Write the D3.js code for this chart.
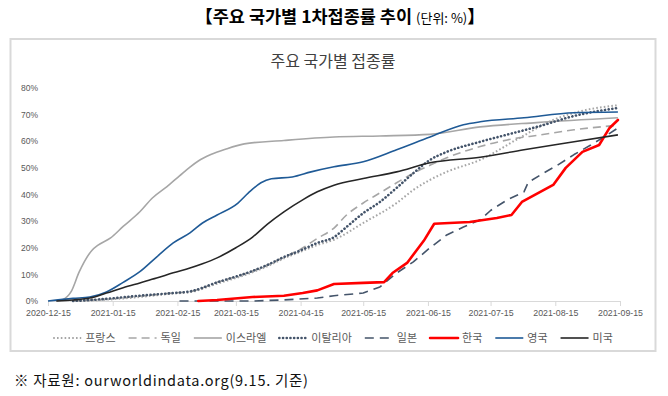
<!DOCTYPE html>
<html><head><meta charset="utf-8">
<script src="https://cdn.jsdelivr.net/npm/d3@7"></script>
<style>body{margin:0;background:#fff}svg{display:block}</style>
</head><body><svg id="c" width="668" height="396"></svg>
<script>
// ---- data ----
const xTickLabels = ["2020-12-15","2021-01-15","2021-02-15","2021-03-15","2021-04-15","2021-05-15","2021-06-15","2021-07-15","2021-08-15","2021-09-15"];
const yTicks = [0,10,20,30,40,50,60,70,80];
const countries = ["프랑스","독일","이스라엘","이탈리아","일본","한국","영국","미국"];

const franceDates = ["2020-12-27","2021-01-12","2021-01-28","2021-02-13","2021-02-21","2021-03-06","2021-03-22","2021-03-30","2021-04-07","2021-04-15","2021-04-23","2021-05-01","2021-05-15","2021-05-31","2021-06-08","2021-06-16","2021-06-24","2021-07-10","2021-07-29","2021-08-14","2021-08-30","2021-09-14"];
const franceValues = [0,0.5,1.5,2.8,3.3,6.5,10.5,13,16,18.5,21,23,29.3,36.8,41.7,45.5,48.5,53,61.3,68,71.8,73.5];

const germanyDates = ["2020-12-27","2021-01-12","2021-01-28","2021-02-13","2021-02-21","2021-03-06","2021-03-22","2021-03-30","2021-04-07","2021-04-15","2021-04-23","2021-05-01","2021-05-07","2021-05-15","2021-05-23","2021-05-31","2021-06-08","2021-06-16","2021-06-24","2021-07-10","2021-07-23","2021-08-08","2021-08-24","2021-09-14"];
const germanyValues = [0,0.7,1.8,3,3.5,7,11,13.5,16.5,19.5,23.5,27.4,32.3,36.8,40.6,44.4,48,51,53.8,58,60.5,62.4,64.3,66];

const israelDates = ["2020-12-19","2020-12-22","2020-12-26","2020-12-30","2021-01-05","2021-01-08","2021-01-14","2021-01-20","2021-01-28","2021-02-03","2021-02-10","2021-02-16","2021-02-21","2021-02-25","2021-03-03","2021-03-10","2021-03-19","2021-04-07","2021-05-01","2021-05-23","2021-06-16","2021-07-10","2021-08-06","2021-09-14"];
const israelValues = [0,0.5,3.4,11,19,21,23.7,28,33.5,38.7,43,47,50.3,52.6,55,57,59,60.3,61.6,62,62.6,65.4,67,68.8];

const italyDates = ["2020-12-27","2021-01-12","2021-01-28","2021-02-13","2021-02-21","2021-03-06","2021-03-22","2021-03-30","2021-04-07","2021-04-15","2021-04-23","2021-05-01","2021-05-07","2021-05-15","2021-05-23","2021-05-31","2021-06-08","2021-06-16","2021-06-24","2021-07-10","2021-07-23","2021-08-08","2021-08-24","2021-09-14"];
const italyValues = [0,0.8,2,3,3.6,7,11,13.5,16.5,19,21.8,24,27.8,33,37.2,42.5,48,53,56,59.8,62.5,65.8,69.5,72.5];

const japanDates = ["2021-02-16","2021-03-23","2021-04-07","2021-04-23","2021-05-01","2021-05-15","2021-05-23","2021-05-31","2021-06-08","2021-06-16","2021-06-24","2021-07-02","2021-07-10","2021-07-15","2021-07-23","2021-07-31","2021-08-02","2021-08-08","2021-08-16","2021-08-24","2021-09-01","2021-09-09","2021-09-14"];
const japanValues = [0,0,0.4,1.1,2,3,5.3,10.5,14.7,20,24.8,27.8,30.5,34,38,41,44.5,47.4,51,55,58.6,62.4,65];

const koreaDates = ["2021-02-25","2021-03-06","2021-03-23","2021-04-07","2021-04-16","2021-04-23","2021-05-01","2021-05-15","2021-05-25","2021-05-29","2021-06-05","2021-06-13","2021-06-18","2021-07-05","2021-07-18","2021-07-25","2021-07-30","2021-08-14","2021-08-20","2021-08-28","2021-09-05","2021-09-10","2021-09-14"];
const koreaValues = [0,0.4,1.5,2,3,4,6.4,6.8,7.1,10.5,14.3,22.6,29,29.7,31.2,32.3,37.2,43.6,50,56,58.6,65,68];

const ukDates = ["2020-12-15","2020-12-27","2021-01-04","2021-01-12","2021-01-20","2021-01-28","2021-02-05","2021-02-13","2021-02-21","2021-02-27","2021-03-06","2021-03-16","2021-03-21","2021-03-27","2021-04-01","2021-04-11","2021-04-20","2021-05-01","2021-05-15","2021-05-31","2021-06-16","2021-07-02","2021-07-10","2021-07-31","2021-08-24","2021-09-14"];
const ukValues = [0,1,1.5,3.4,7,11,16.5,21.8,25.6,29.3,32.3,36.8,40.6,44.4,45.9,46.6,48.5,50.4,52.3,56.8,61.6,66.2,67.3,68.8,70.7,71];

const usDates = ["2020-12-19","2020-12-27","2021-01-04","2021-01-12","2021-01-20","2021-01-28","2021-02-05","2021-02-13","2021-02-21","2021-02-27","2021-03-06","2021-03-15","2021-03-23","2021-03-30","2021-04-07","2021-04-16","2021-04-23","2021-05-01","2021-05-15","2021-05-31","2021-06-16","2021-07-10","2021-07-31","2021-08-24","2021-09-14"];
const usValues = [0,0.4,1.1,3,5,6.8,8.6,10.6,12.4,14,16.2,20,24,28.8,33.5,38,41,43.5,46,48.5,51.9,54,56.8,59.8,62.4];

// ---- build ----
const parse = d3.utcParse("%Y-%m-%d");
const zip = (ds, vs) => ds.map((d, i) => ({date: parse(d), value: vs[i]}));
const styles = [
  {color:"#a6a6a6", width:2,   dash:"1.6,2.2", cap:"butt",  curve:d3.curveMonotoneX},
  {color:"#a6a6a6", width:1.6, dash:"8,5",     cap:"butt",  curve:d3.curveMonotoneX},
  {color:"#a6a6a6", width:1.6, dash:null,      cap:"butt",  curve:d3.curveMonotoneX},
  {color:"#44546a", width:2.6, dash:"0.1,3.6", cap:"round", curve:d3.curveMonotoneX},
  {color:"#44546a", width:1.6, dash:"9,6",     cap:"butt",  curve:d3.curveLinear},
  {color:"#ff0000", width:2.6, dash:null,      cap:"round", curve:d3.curveLinear},
  {color:"#1f5a96", width:1.6, dash:null,      cap:"butt",  curve:d3.curveMonotoneX},
  {color:"#262626", width:1.6, dash:null,      cap:"butt",  curve:d3.curveMonotoneX}
];
const seriesData = [
  zip(franceDates, franceValues), zip(germanyDates, germanyValues), zip(israelDates, israelValues),
  zip(italyDates, italyValues), zip(japanDates, japanValues), zip(koreaDates, koreaValues),
  zip(ukDates, ukValues), zip(usDates, usValues)
];
const series = countries.map((name, i) => ({name, values: seriesData[i], ...styles[i]}));

const svg = d3.select("#c");
svg.append("rect").attr("width",668).attr("height",396).attr("fill","#fff");

// top title
const tt = svg.append("text").attr("x",340).attr("y",23).attr("text-anchor","middle")
  .attr("font-family","'Noto Sans CJK KR', sans-serif").attr("fill","#000");
tt.append("tspan").attr("font-size",17.5).attr("font-weight",700).text("【주요 국가별 1차접종률 추이 ");
tt.append("tspan").attr("font-size",13).attr("font-weight",400).text("(단위: %)");
tt.append("tspan").attr("font-size",17.5).attr("font-weight",700).text("】");

// chart box
svg.append("rect").attr("x",10.5).attr("y",39).attr("width",645).attr("height",312)
  .attr("fill","#fff").attr("stroke","#d9d9d9").attr("stroke-width",2);

svg.append("text").attr("x",333).attr("y",67).attr("text-anchor","middle")
  .attr("font-family","'Noto Sans CJK KR', sans-serif").attr("font-size",16)
  .attr("fill","#404040").text("주요 국가별 접종률");

const x = d3.scaleUtc().domain([parse(xTickLabels[0]), parse(xTickLabels[xTickLabels.length-1])]).range([48,620]);
const y = d3.scaleLinear().domain([0,80]).range([301,88]);

// y axis labels
const yAxis = svg.append("g").attr("transform","translate(40,0)")
  .call(d3.axisLeft(y).tickValues(yTicks).tickFormat(d => d + "%").tickSize(0).tickPadding(2));
yAxis.select(".domain").remove();
yAxis.selectAll("text").attr("font-family","'Liberation Sans', Arial, sans-serif").attr("font-size",8.5).attr("fill","#595959");

// x axis
const xAxis = svg.append("g").attr("transform","translate(0,301)")
  .call(d3.axisBottom(x).tickValues(xTickLabels.map(parse)).tickFormat(d3.utcFormat("%Y-%m-%d")).tickSize(5).tickPadding(4));
xAxis.select(".domain").attr("stroke","#d9d9d9");
xAxis.selectAll(".tick line").attr("stroke","#d9d9d9");
xAxis.selectAll("text").attr("font-family","'Liberation Sans', Arial, sans-serif").attr("font-size",8.8).attr("fill","#595959");

// lines
const g = svg.append("g");
series.forEach(s => {
  const line = d3.line().x(d => x(d.date)).y(d => y(d.value)).curve(s.curve);
  g.append("path").datum(s.values).attr("d", line).attr("fill","none")
    .attr("stroke", s.color).attr("stroke-width", s.width)
    .attr("stroke-dasharray", s.dash).attr("stroke-linecap", s.cap).attr("stroke-linejoin","round");
});

// legend
const leg = svg.append("g");
let lx = 0;
series.forEach(s => {
  const it = leg.append("g").attr("transform", `translate(${lx},0)`);
  it.append("line").attr("x1",0).attr("x2",28).attr("y1",0).attr("y2",0)
    .attr("stroke", s.color).attr("stroke-width", s.width)
    .attr("stroke-dasharray", s.dash).attr("stroke-linecap", s.cap);
  const t = it.append("text").attr("x",32).attr("y",4).attr("font-family","'Noto Sans CJK KR', sans-serif")
    .attr("font-size",11).attr("fill","#595959").text(s.name);
  lx += 32 + t.node().getComputedTextLength() + 13;
});
const totalW = lx - 13;
leg.attr("transform", `translate(${333 - totalW/2},338)`);

// footer
svg.append("text").attr("x",14).attr("y",386)
  .attr("font-family","'Noto Sans CJK KR', sans-serif").attr("font-size",14.5).attr("fill","#111")
  .attr("textLength",294).attr("lengthAdjust","spacing")
  .text("※ 자료원: ourworldindata.org(9.15. 기준)");
</script></body></html>
